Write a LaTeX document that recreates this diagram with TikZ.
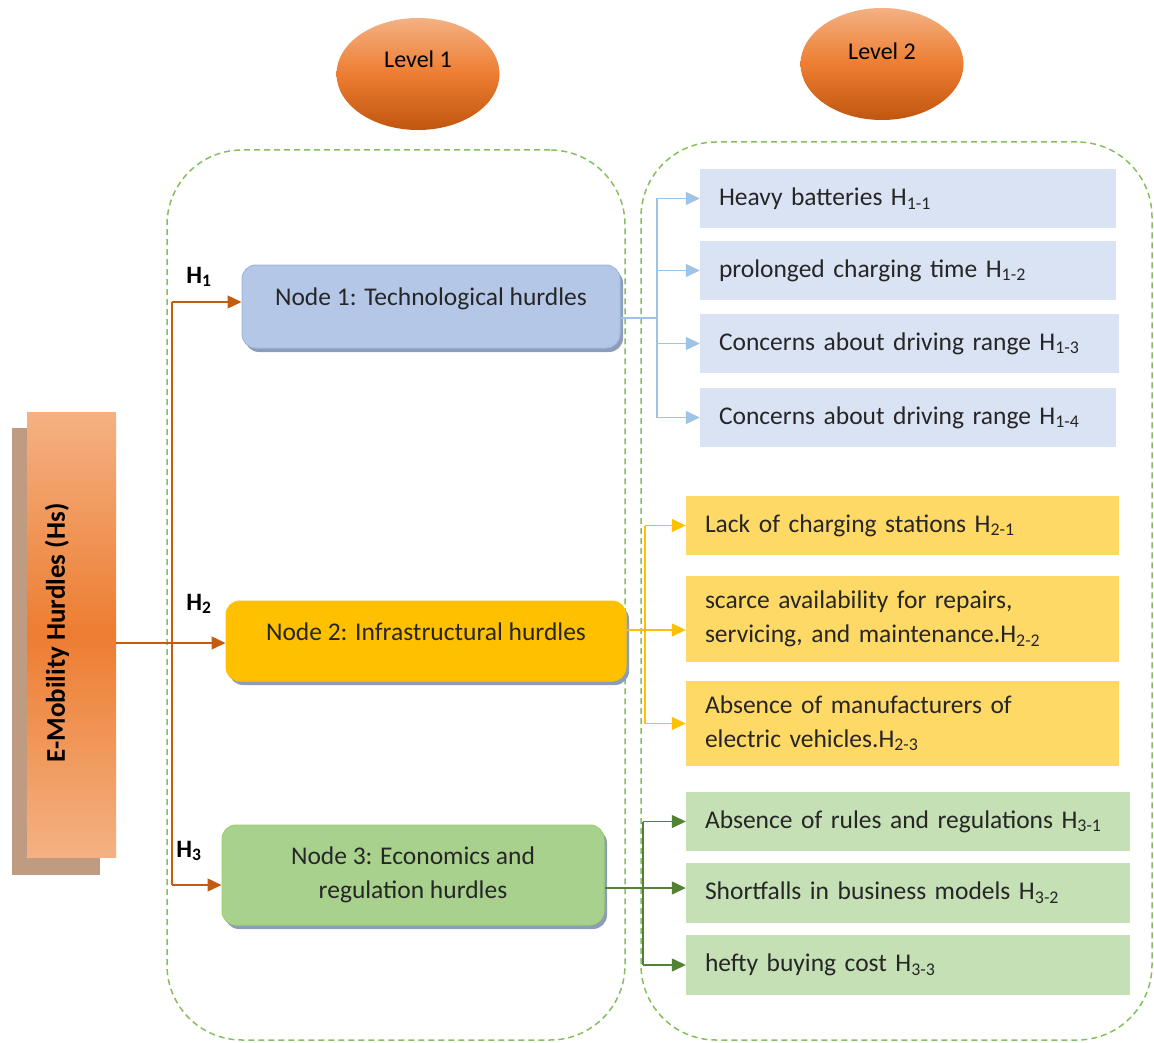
\documentclass[tikz,border=0pt]{standalone}
\usepackage{fontspec}
\setmainfont{Carlito}
\usetikzlibrary{shapes.geometric,arrows.meta,shadows}
\definecolor{olight}{HTML}{F4B183}
\definecolor{omid}{HTML}{ED7D31}
\definecolor{odark}{HTML}{C0560F}
\definecolor{oshadow}{HTML}{BF9B82}
\definecolor{oline}{HTML}{C55A11}
\definecolor{bline}{HTML}{9DC3E6}
\definecolor{yline}{HTML}{FFC000}
\definecolor{gline}{HTML}{548235}
\definecolor{bfill}{HTML}{DAE3F3}
\definecolor{yfill}{HTML}{FFD966}
\definecolor{gfill}{HTML}{C5E0B4}
\definecolor{nonefill}{HTML}{B4C7E7}
\definecolor{nonedraw}{HTML}{9FB8E2}
\definecolor{ntwofill}{HTML}{FFC000}
\definecolor{nthreefill}{HTML}{A9D18E}
\definecolor{nthreedraw}{HTML}{9CD06E}
\definecolor{nshadow}{HTML}{8C9DB8}
\definecolor{dashc}{HTML}{86BE60}
\definecolor{txt}{HTML}{262626}
\newcommand{\Hx}[1]{H\textsubscript{#1}}
\tikzset{
  lvl/.style={ellipse, minimum width=163pt, minimum height=112pt, inner sep=0pt,
    top color=olight, bottom color=odark, middle color=omid, text=black,
    font=\fontsize{24}{28}\selectfont},
  cont/.style={draw=dashc, line width=1.5pt, dash pattern=on 6pt off 4pt,
    rounded corners=75pt, rectangle, inner sep=0pt},
  hnode/.style={rectangle, rounded corners=14pt, inner sep=0pt, align=center,
    text=txt, line width=1pt,
    drop shadow={shadow xshift=3pt, shadow yshift=-4pt, fill=nshadow, opacity=1}},
  leaf/.style={rectangle, inner xsep=19pt, inner ysep=0pt, align=left, text=txt},
  hlab/.style={font=\fontsize{25}{28}\selectfont\bfseries, text=black, inner sep=0pt},
  arr/.style={line width=1.4pt, -{Triangle[length=14pt,width=13pt]}},
  ln/.style={line width=1.4pt},
}
\begin{document}
\begin{tikzpicture}[x=1pt,y=-1pt, font=\fontsize{25.5}{33.5}\selectfont]
\useasboundingbox (0,0) rectangle (1154,1043);

% containers
\node[cont, minimum width=458pt, minimum height=890pt] (c1) at (396,595) {};
\node[cont, minimum width=511pt, minimum height=898pt] (c2) at (896.5,591) {};

% level ellipses
\node[lvl, text height=16pt, text depth=28pt] (l1) at (418,74) {Level 1};
\node[lvl, text height=16pt, text depth=24pt] (l2) at (882,64) {Level 2};

% E-mobility box
\fill[oshadow] (12,428) rectangle (100,875);
\node[rectangle, inner sep=0pt, minimum width=89pt, minimum height=445pt,
  top color=olight, bottom color=olight, middle color=omid] (emob) at (71.5,634.5) {};
\node[rotate=90, font=\fontsize{27}{30}\selectfont\bfseries, text=black, inner sep=0pt] (emobt) at (57,633) {E-Mobility Hurdles (Hs)};

% level 1 nodes
\node[hnode, fill=nonefill, draw=nonedraw, minimum width=378pt, minimum height=83pt,
  text height=18pt, text depth=20pt] (n1) at (431,306.5) {Node 1: Technological hurdles};
\node[hnode, fill=ntwofill, draw=ntwofill, minimum width=400pt, minimum height=80pt,
  text height=18pt, text depth=19pt] (n2) at (426,641) {Node 2: Infrastructural hurdles};
\node[hnode, fill=nthreefill, draw=nthreedraw, minimum width=382pt, minimum height=100pt]
  (n3) at (413,875) {Node 3: Economics and\\regulation hurdles};

% H labels
\node[hlab] (h1) at (199,277) {\Hx{1}};
\node[hlab] (h2) at (199,604) {\Hx{2}};
\node[hlab] (h3) at (189,851) {\Hx{3}};

% level 2 blue boxes
\node[leaf, fill=bfill, minimum width=416pt, text width=378pt, minimum height=59pt] (b1) at (908,198.5) {Heavy batteries \Hx{1-1}};
\node[leaf, fill=bfill, minimum width=416pt, text width=378pt, minimum height=59pt] (b2) at (908,270.5) {prolonged charging time \Hx{1-2}};
\node[leaf, fill=bfill, minimum width=419pt, text width=381pt, minimum height=59pt] (b3) at (909.5,343.5) {Concerns about driving range \Hx{1-3}};
\node[leaf, fill=bfill, minimum width=416pt, text width=378pt, minimum height=59pt] (b4) at (908,417.5) {Concerns about driving range \Hx{1-4}};

% yellow boxes
\node[leaf, fill=yfill, minimum width=433pt, text width=395pt, minimum height=59pt] (y1) at (902.5,525.5) {Lack of charging stations \Hx{2-1}};
\node[leaf, fill=yfill, minimum width=433pt, text width=395pt, minimum height=86pt] (y2) at (902.5,619) {scarce availability for repairs,\\servicing, and maintenance.\Hx{2-2}};
\node[leaf, fill=yfill, minimum width=433pt, text width=395pt, minimum height=85pt] (y3) at (902.5,723.5) {Absence of manufacturers of\\electric vehicles.\Hx{2-3}};

% green boxes
\node[leaf, fill=gfill, minimum width=444pt, text width=406pt, minimum height=59pt] (g1) at (908,821.5) {Absence of rules and regulations \Hx{3-1}};
\node[leaf, fill=gfill, minimum width=444pt, text width=406pt, minimum height=60pt] (g2) at (908,893) {Shortfalls in business models \Hx{3-2}};
\node[leaf, fill=gfill, minimum width=444pt, text width=406pt, minimum height=60pt] (g3) at (908,965) {hefty buying cost \Hx{3-3}};

% orange connectors
\coordinate (oj) at (172,643);
\coordinate (ot) at (172,302);
\coordinate (ob) at (172,885);
\draw[ln, oline] (emob.east |- oj) -- (oj);
\draw[ln, oline] (ot) -- (ob);
\draw[arr, oline] (ot) -- (ot -| n1.west);
\draw[arr, oline] (oj) -- (oj -| n2.west);
\draw[arr, oline] (ob) -- (ob -| n3.west);

% blue connectors
\coordinate (bj) at (657,318);
\coordinate (bt) at (657,198.5);
\coordinate (bb) at (657,417.5);
\draw[ln, bline] (n1.east |- bj) -- (bj);
\draw[ln, bline] (bt) -- (bb);
\draw[arr, bline] (bt) -- (b1.west);
\draw[arr, bline] (bt |- b2.west) -- (b2.west);
\draw[arr, bline] (bt |- b3.west) -- (b3.west);
\draw[arr, bline] (bb) -- (b4.west);

% yellow connectors
\coordinate (yj) at (645,630);
\coordinate (yt) at (645,525.5);
\coordinate (yb) at (645,723.5);
\draw[ln, yline] (yt) -- (yb);
\draw[arr, yline] (n2.east |- yj) -- (yj -| y2.west);
\draw[arr, yline] (yt) -- (y1.west);
\draw[arr, yline] (yb) -- (y3.west);

% green connectors
\coordinate (gj) at (643,888);
\coordinate (gt) at (643,821.5);
\coordinate (gb) at (643,965);
\draw[ln, gline] (gt) -- (gb);
\draw[arr, gline] (n3.east |- gj) -- (gj -| g2.west);
\draw[arr, gline] (gt) -- (g1.west);
\draw[arr, gline] (gb) -- (g3.west);
\end{tikzpicture}
\end{document}
